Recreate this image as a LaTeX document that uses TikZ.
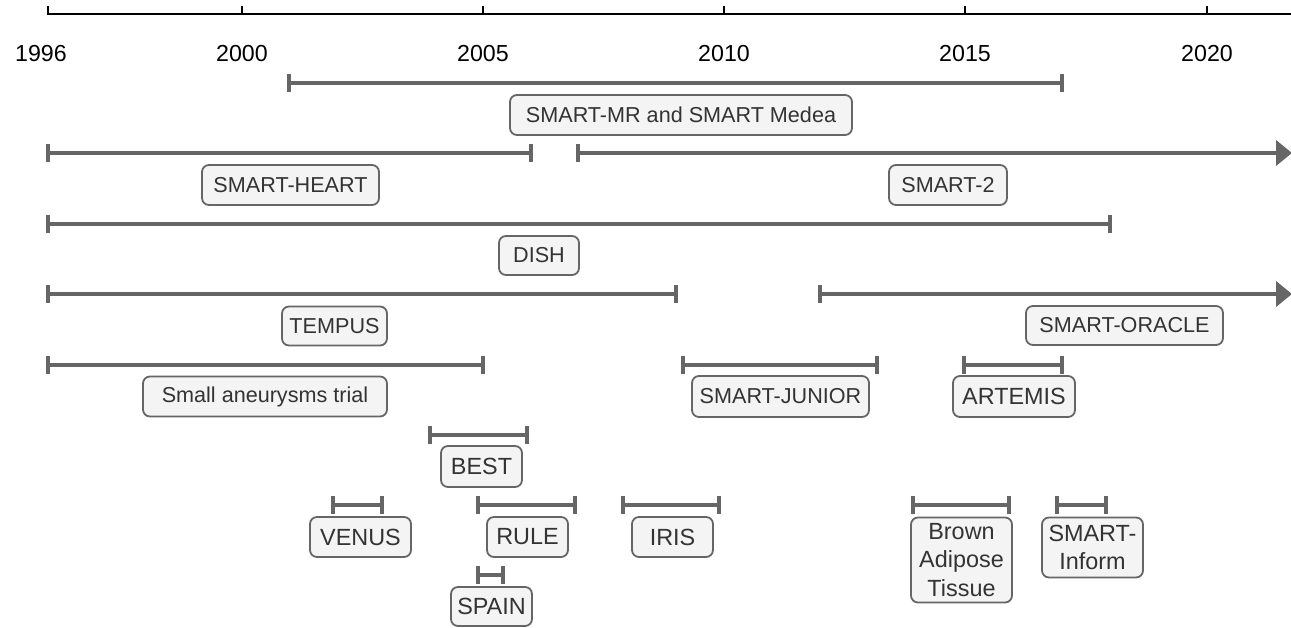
\documentclass[tikz,border=0pt]{standalone}
\usepackage{fontspec}
\setmainfont{Liberation Sans}
\usetikzlibrary{arrows.meta}
\definecolor{barc}{HTML}{666666}
\definecolor{boxfill}{HTML}{F4F4F4}
\definecolor{txt}{HTML}{333333}
\tikzset{
  bar/.style={draw=barc, line width=4pt, {Bar[width=18pt,line width=4pt]}-{Bar[width=18pt,line width=4pt]}},
  arr/.style={draw=barc, line width=4pt, {Bar[width=18pt,line width=4pt]}-{Triangle[length=16pt,width=25pt]}},
  lbl/.style={draw=barc, line width=1.8pt, fill=boxfill, rounded corners=7pt, text=txt,
    inner sep=0pt, font=\fontsize{21.6}{26}\selectfont, align=center},
  lblb/.style={lbl, font=\fontsize{23.4}{28.3}\selectfont},
  yr/.style={font=\fontsize{23.2}{26}\selectfont, text=black, inner sep=0pt},
}
\begin{document}
\begin{tikzpicture}[x=1pt,y=-1pt]
\useasboundingbox (0,0) rectangle (1291,628);
% axis
\coordinate (a0) at (48,14);
\coordinate (a1) at (1291,14);
\draw[line width=1.7pt] (a0) -- (a1);
\foreach \xx/\yy/\lx in {48/1996/41, 242/2000/242, 483/2005/483, 724/2010/724, 965/2015/965, 1207/2020/1207}{
  \draw[line width=1.7pt] (\xx,14.8) -- (\xx,6);
  \node[yr] (y\yy) at (\lx,53.5) {\yy};
}
% bars
\coordinate (mrA) at (287,83);    \coordinate (mrB) at (1064,83);
\coordinate (heA) at (46,153);    \coordinate (heB) at (533,153);
\coordinate (s2A) at (576,153);   \coordinate (s2B) at (1292,153);
\coordinate (diA) at (46,224);    \coordinate (diB) at (1112,224);
\coordinate (teA) at (46,294);    \coordinate (teB) at (678,294);
\coordinate (orA) at (818,294);   \coordinate (orB) at (1292,294);
\coordinate (saA) at (46,365);    \coordinate (saB) at (485,365);
\coordinate (juA) at (681,365);   \coordinate (juB) at (879,365);
\coordinate (arA) at (962,365);   \coordinate (arB) at (1064,365);
\coordinate (beA) at (428,435);   \coordinate (beB) at (529,435);
\coordinate (veA) at (331,505);   \coordinate (veB) at (384,505);
\coordinate (ruA) at (476,505);   \coordinate (ruB) at (577,505);
\coordinate (irA) at (621,505);   \coordinate (irB) at (721,505);
\coordinate (spA) at (476,575);   \coordinate (spB) at (505,575);
\coordinate (baA) at (911,505);   \coordinate (baB) at (1011,505);
\coordinate (inA) at (1055,505);  \coordinate (inB) at (1108,505);
\draw[bar] (mrA) -- (mrB);
\draw[bar] (heA) -- (heB);
\draw[arr] (s2A) -- (s2B);
\draw[bar] (diA) -- (diB);
\draw[bar] (teA) -- (teB);
\draw[arr] (orA) -- (orB);
\draw[bar] (saA) -- (saB);
\draw[bar] (juA) -- (juB);
\draw[bar] (arA) -- (arB);
\draw[bar] (beA) -- (beB);
\draw[bar] (veA) -- (veB);
\draw[bar] (ruA) -- (ruB);
\draw[bar] (irA) -- (irB);
\draw[bar] (spA) -- (spB);
\draw[bar] (baA) -- (baB);
\draw[bar] (inA) -- (inB);
% labels
\node[lbl, minimum width=342pt, minimum height=40pt] (mr) at (681,115) {SMART-MR and SMART Medea};
\node[lbl, minimum width=177pt, minimum height=40pt] (he) at (290.5,185) {SMART-HEART};
\node[lbl, minimum width=118pt, minimum height=40pt] (s2) at (948,185) {SMART-2};
\node[lbl, minimum width=80pt, minimum height=39pt] (di) at (539,255.5) {DISH};
\node[lbl, minimum width=105pt, minimum height=39pt] (te) at (334.5,326) {TEMPUS};
\node[lbl, minimum width=197pt, minimum height=39pt] (or) at (1124.5,325.5) {SMART-ORACLE};
\node[lbl, minimum width=244pt, minimum height=40pt] (sa) at (265,396.5) {Small aneurysms trial};
\node[lbl, minimum width=177pt, minimum height=41pt] (ju) at (780.5,396.5) {SMART-JUNIOR};
\node[lblb, minimum width=122pt, minimum height=41pt] (ar) at (1014,396.5) {ARTEMIS};
\node[lblb, minimum width=81pt, minimum height=41pt] (be) at (481.5,466.5) {BEST};
\node[lblb, minimum width=101pt, minimum height=40pt] (ve) at (360.5,537) {VENUS};
\node[lblb, minimum width=81pt, minimum height=40pt] (ru) at (527.5,537) {RULE};
\node[lblb, minimum width=81pt, minimum height=40pt] (ir) at (672.5,537) {IRIS};
\node[lblb, minimum width=81pt, minimum height=39pt] (sp) at (491.5,606.5) {SPAIN};
\node[lblb, minimum width=101pt, minimum height=85pt] (ba) at (961.5,560) {Brown\\Adipose\\Tissue};
\node[lblb, minimum width=101pt, minimum height=60pt] (in) at (1092.5,547.5) {SMART-\\Inform};
\end{tikzpicture}
\end{document}
